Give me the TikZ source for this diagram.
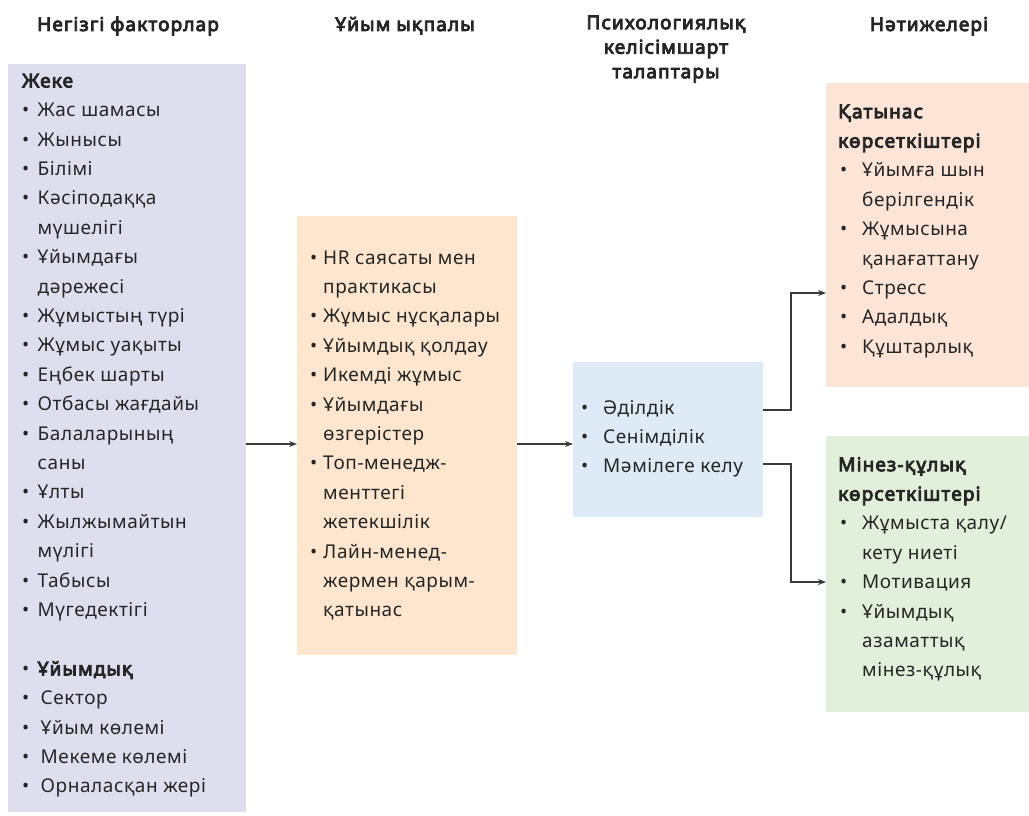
\documentclass[tikz,border=0pt]{standalone}
\usepackage{fontspec}
\setmainfont{Noto Sans}[LetterSpace=3, BoldFont=*, BoldFeatures={FakeBold=4.5, LetterSpace=6}]
\usetikzlibrary{arrows.meta}

\definecolor{ink}{HTML}{262626}
\definecolor{lineclr}{HTML}{3A3A3A}
\definecolor{lavender}{HTML}{DFDEEF}
\definecolor{peach}{HTML}{FDE6CD}
\definecolor{skyblue}{HTML}{DEEBF7}
\definecolor{rose}{HTML}{FCE4D6}
\definecolor{mint}{HTML}{E2EFDA}

% bullet item with a fixed hanging indent, and a continuation line
\newcommand{\itm}[2]{\makebox[#1][l]{•}#2}
\newcommand{\cnt}[2]{\hspace*{#1}#2}

\begin{document}
\begin{tikzpicture}[x=1pt, y=-1pt,
  panel/.style={rectangle, draw=none, inner sep=0pt, anchor=north west},
  body/.style={inner sep=0pt, anchor=north west, align=left, text=ink,
    font=\fontsize{19pt}{29.4pt}\selectfont},
  head/.style={inner sep=0pt, align=center, text=ink,
    font=\fontsize{19pt}{24.5pt}\selectfont\bfseries},
  arr/.style={draw=lineclr, line width=1.2pt, -{Stealth[length=8pt, width=6pt]}}]

\useasboundingbox (0,0) rectangle (1029,816);

% column titles
\node[head, anchor=base] (h1) at (128,31) {Негізгі факторлар};
\node[head, anchor=base] (h2) at (405,31) {Ұйым ықпалы};
\node[head, anchor=north] (h3) at (666,11.85) {\strut Психологиялық\\келісімшарт\\талаптары};
\node[head, anchor=base] (h4) at (929,31) {Нәтижелері};

% coloured panels
\node[panel, fill=lavender, minimum width=238pt, minimum height=748pt] (fac) at (8,64) {};
\node[panel, fill=peach, minimum width=220pt, minimum height=439pt] (inf) at (297,216) {};
\node[panel, fill=skyblue, minimum width=190pt, minimum height=155pt] (psy) at (573,362) {};
\node[panel, fill=rose, minimum width=203pt, minimum height=304pt] (rel) at (826,83) {};
\node[panel, fill=mint, minimum width=203pt, minimum height=276pt] (beh) at (826,436) {};

% panel texts
\node[body] (facT) at (22,66.6) {\strut\textbf{Жеке}\\
  \itm{15.5pt}{Жас шамасы}\\
  \itm{15.5pt}{Жынысы}\\
  \itm{15.5pt}{Білімі}\\
  \itm{15.5pt}{Кәсіподаққа}\\
  \cnt{15.5pt}{мүшелігі}\\
  \itm{15.5pt}{Ұйымдағы}\\
  \cnt{15.5pt}{дәрежесі}\\
  \itm{15.5pt}{Жұмыстың түрі}\\
  \itm{15.5pt}{Жұмыс уақыты}\\
  \itm{15.5pt}{Еңбек шарты}\\
  \itm{15.5pt}{Отбасы жағдайы}\\
  \itm{15.5pt}{Балаларының}\\
  \cnt{15.5pt}{саны}\\
  \itm{15.5pt}{Ұлты}\\
  \itm{15.5pt}{Жылжымайтын}\\
  \cnt{15.5pt}{мүлігі}\\
  \itm{15.5pt}{Табысы}\\
  \itm{15.5pt}{Мүгедектігі}\\
  ~\\
  \itm{15.5pt}{\textbf{Ұйымдық}}\\
  \itm{18.5pt}{Сектор}\\
  \itm{18.5pt}{Ұйым көлемі}\\
  \itm{18.5pt}{Мекеме көлемі}\\
  \itm{18.5pt}{Орналасқан жері}};

\node[body] (infT) at (310,243.4) {\strut\itm{13pt}{HR саясаты мен}\\
  \cnt{13pt}{практикасы}\\
  \itm{13pt}{Жұмыс нұсқалары}\\
  \itm{13pt}{Ұйымдық қолдау}\\
  \itm{13pt}{Икемді жұмыс}\\
  \itm{13pt}{Ұйымдағы}\\
  \cnt{13pt}{өзгерістер}\\
  \itm{13pt}{Топ-менедж-}\\
  \cnt{13pt}{менттегі}\\
  \cnt{13pt}{жетекшілік}\\
  \itm{13pt}{Лайн-менед-}\\
  \cnt{13pt}{жермен қарым-}\\
  \cnt{13pt}{қатынас}};

\node[body] (psyT) at (581,393.4) {\strut\itm{22pt}{Әділдік}\\
  \itm{22pt}{Сенімділік}\\
  \itm{22pt}{Мәмілеге келу}};

\node[body] (relT) at (838,97.4) {\strut\textbf{Қатынас}\\
  \textbf{көрсеткіштері}\\
  \cnt{2pt}{\itm{22pt}{Ұйымға шын}}\\
  \cnt{24pt}{берілгендік}\\
  \cnt{2pt}{\itm{22pt}{Жұмысына}}\\
  \cnt{24pt}{қанағаттану}\\
  \cnt{2pt}{\itm{22pt}{Стресс}}\\
  \cnt{2pt}{\itm{22pt}{Адалдық}}\\
  \cnt{2pt}{\itm{22pt}{Құштарлық}}};

\node[body] (behT) at (838,450.4) {\strut\textbf{Мінез-құлық}\\
  \textbf{көрсеткіштері}\\
  \cnt{2pt}{\itm{22pt}{Жұмыста қалу/}}\\
  \cnt{24pt}{кету ниеті}\\
  \cnt{2pt}{\itm{22pt}{Мотивация}}\\
  \cnt{2pt}{\itm{22pt}{Ұйымдық}}\\
  \cnt{24pt}{азаматтық}\\
  \cnt{24pt}{мінез-құлық}};

% connector levels
\coordinate (ya) at (0,444);
\coordinate (yup) at (0,410);
\coordinate (ydn) at (0,464);
\coordinate (ytop) at (0,293);
\coordinate (ybot) at (0,582);
\coordinate (xs) at (791,0);

\draw[arr] (fac.east |- ya) -- (inf.west |- ya);
\draw[arr] (inf.east |- ya) -- (psy.west |- ya);
\draw[arr] (psy.east |- yup) -- (xs |- yup) -- (xs |- ytop) -- (rel.west |- ytop);
\draw[arr] (psy.east |- ydn) -- (xs |- ydn) -- (xs |- ybot) -- (beh.west |- ybot);

\end{tikzpicture}
\end{document}
